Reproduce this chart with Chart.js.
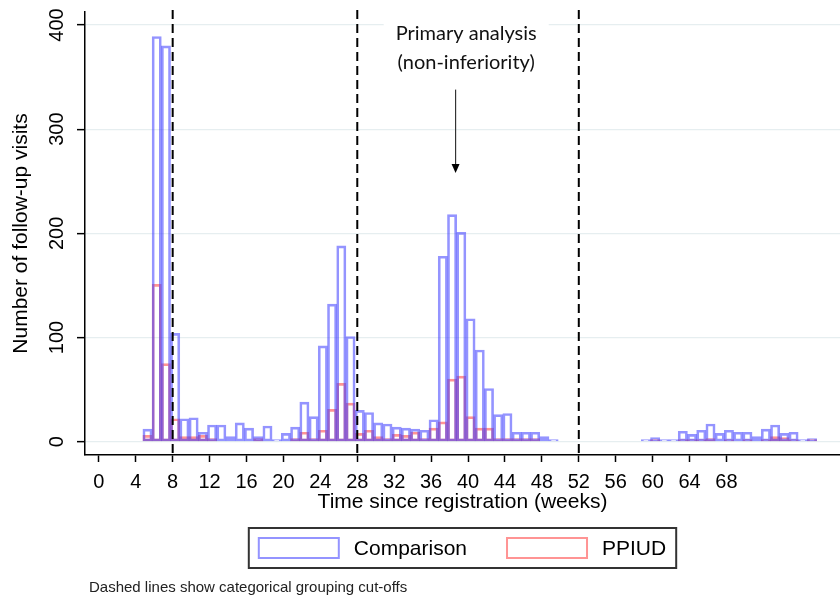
<!DOCTYPE html>
<html>
<head>
<meta charset="utf-8">
<title>Follow-up visits</title>
<script src="https://cdn.jsdelivr.net/npm/chart.js@4.4.0/dist/chart.umd.min.js"></script>
<style>
    html, body { margin: 0; padding: 0; background: #fff; }
    #myChart { display: block; }
</style>
</head>
<body>
<canvas id="myChart" width="840" height="600"></canvas>
<script>
// weeks since registration, one bar per week
const weeks = [5, 6, 7, 8, 9, 10, 11, 12, 13, 14, 15, 16, 17, 18, 19, 20, 21, 22, 23, 24, 25, 26, 27,
    28, 29, 30, 31, 32, 33, 34, 35, 36, 37, 38, 39, 40, 41, 42, 43, 44, 45, 46, 47, 48, 49,
    59, 60, 61, 62, 63, 64, 65, 66, 67, 68, 69, 70, 71, 72, 73, 74, 75, 76, 77];

const comparison = [12, 389, 380, 104, 22, 23, 9, 16, 16, 5, 18, 13, 5, 15, 2, 8, 14, 38, 24, 92, 132, 188, 101,
    30, 28, 18, 17, 14, 13, 12, 11, 21, 178, 218, 201, 118, 88, 51, 26, 27, 9, 9, 9, 5, 2,
    1, 4, 1, 1, 10, 7, 11, 17, 8, 11, 9, 9, 5, 12, 16, 8, 9, 1, 3];

const ppiud = [6, 151, 75, 22, 5, 5, 6, 3, null, null, null, null, 3, null, null, null, 3, 9, 3, 11, 31, 56, 37,
    8, 11, 5, 3, 7, 6, 9, 3, 13, 19, 60, 63, 24, 13, 13, 3, 3, 3, 3, 3, null, null,
    null, 2, null, null, 2, 2, 2, 3, null, 2, null, 2, null, 2, 5, 4, 2, null, 2];

const xTicks = [0, 4, 8, 12, 16, 20, 24, 28, 32, 36, 40, 44, 48, 52, 56, 60, 64, 68];
const yTicks = [0, 100, 200, 300, 400];
const cutoffs = [8, 28, 52];

// bins start a little before the whole week
const binOffset = 0.27;

const note = {
    lines: ['Primary analysis', '(non-inferiority)'],
    x: 39.8, y: [392, 364],
    arrowX: 38.65, arrowFrom: 338, arrowTo: 258
};
const footnote = 'Dashed lines show categorical grouping cut-offs';

const FONT = "'Liberation Sans', Arial, sans-serif";
Chart.defaults.font.family = FONT;
Chart.defaults.color = '#000';

const toPoints = (values) => weeks.map((w, i) => ({ x: w + binOffset, y: values[i] }));

const overlay = {
    id: 'overlay',
    afterDatasetsDraw(chart) {
        const { ctx, chartArea, scales: { x, y } } = chart;
        ctx.save();

        // cut-off lines
        ctx.strokeStyle = '#000';
        ctx.lineWidth = 2;
        ctx.setLineDash([9, 5]);
        cutoffs.forEach(c => {
            const px = x.getPixelForValue(c);
            ctx.beginPath();
            ctx.moveTo(px, chartArea.top - 2);
            ctx.lineTo(px, chartArea.bottom);
            ctx.stroke();
        });
        ctx.setLineDash([]);

        // annotation
        ctx.font = "20px Lato, 'Open Sans', sans-serif";
        const cx = x.getPixelForValue(note.x);
        const w = Math.max(...note.lines.map(t => ctx.measureText(t).width));
        const y1 = y.getPixelForValue(note.y[0]);
        const y2 = y.getPixelForValue(note.y[1]);
        ctx.fillStyle = '#fff';
        ctx.fillRect(cx - w / 2 - 12, y1 - 15, w + 24, y2 - y1 + 30);
        ctx.fillStyle = '#111';
        ctx.textAlign = 'center';
        ctx.textBaseline = 'middle';
        note.lines.forEach((t, i) => ctx.fillText(t, cx, y.getPixelForValue(note.y[i])));

        const ax = x.getPixelForValue(note.arrowX);
        const aTop = y.getPixelForValue(note.arrowFrom);
        const aEnd = y.getPixelForValue(note.arrowTo);
        ctx.strokeStyle = '#333';
        ctx.lineWidth = 1.2;
        ctx.beginPath();
        ctx.moveTo(ax, aTop);
        ctx.lineTo(ax, aEnd - 8);
        ctx.stroke();
        ctx.fillStyle = '#000';
        ctx.beginPath();
        ctx.moveTo(ax - 4, aEnd - 9);
        ctx.lineTo(ax + 4, aEnd - 9);
        ctx.lineTo(ax, aEnd);
        ctx.closePath();
        ctx.fill();
        ctx.restore();
    },
    afterDraw(chart) {
        const { ctx, chartArea, scales: { y } } = chart;
        ctx.save();

        // rotated y tick labels
        ctx.font = `20px ${FONT}`;
        ctx.fillStyle = '#000';
        ctx.textAlign = 'center';
        ctx.textBaseline = 'middle';
        y.ticks.forEach(t => {
            ctx.save();
            ctx.translate(57, y.getPixelForValue(t.value));
            ctx.rotate(-Math.PI / 2);
            ctx.fillText(String(t.value), 0, 0);
            ctx.restore();
        });

        // legend in a box
        ctx.font = `21px ${FONT}`;
        const sets = chart.data.datasets;
        const sw = 80, gap = 15, itemGap = 40, pad = 10;
        const widths = sets.map(d => ctx.measureText(d.label).width);
        const total = pad * 2 + sets.length * (sw + gap) + widths.reduce((a, b) => a + b, 0) + itemGap * (sets.length - 1);
        let lx = (chartArea.left + chartArea.right) / 2 - total / 2;
        const boxTop = 528, boxH = 40;
        ctx.strokeStyle = '#333';
        ctx.lineWidth = 2;
        ctx.strokeRect(lx, boxTop, total, boxH);
        lx += pad;
        ctx.textAlign = 'left';
        sets.forEach((d, i) => {
            ctx.strokeStyle = d.borderColor;
            ctx.lineWidth = 2;
            ctx.strokeRect(lx, boxTop + 10, sw, boxH - 20);
            ctx.fillStyle = '#000';
            ctx.fillText(d.label, lx + sw + gap, boxTop + boxH / 2 + 1);
            lx += sw + gap + widths[i] + itemGap;
        });

        // footnote
        ctx.font = `15px ${FONT}`;
        ctx.fillStyle = '#222';
        ctx.fillText(footnote, chartArea.left + 4, 588);
        ctx.restore();
    }
};

const barStyle = {
    backgroundColor: 'rgba(255,255,255,0)',
    borderWidth: 2,
    borderSkipped: false,
    minBarLength: 2,
    grouped: false,
    barPercentage: 1,
    categoryPercentage: 1
};

new Chart(document.getElementById('myChart').getContext('2d'), {
    type: 'bar',
    data: {
        datasets: [
            { label: 'Comparison', data: toPoints(comparison), borderColor: 'rgba(60,60,255,0.55)', ...barStyle },
            { label: 'PPIUD', data: toPoints(ppiud), borderColor: 'rgba(255,60,60,0.55)', ...barStyle }
        ]
    },
    options: {
        responsive: false,
        animation: false,
        layout: { padding: { top: 12, right: 0, bottom: 85, left: 0 } },
        plugins: { legend: { display: false }, tooltip: { enabled: false } },
        scales: {
            x: {
                type: 'linear',
                offset: false,
                min: -1.5,
                max: 80.3,
                afterBuildTicks: (s) => { s.ticks = xTicks.map(v => ({ value: v })); },
                afterFit: (s) => { s.height = 60; },
                grid: { offset: false, drawOnChartArea: false, tickLength: 7, tickColor: '#000', tickWidth: 1.5 },
                border: { color: '#000', width: 1.5 },
                ticks: { font: { size: 20 }, color: '#000', padding: 8, maxRotation: 0, autoSkip: false },
                title: { display: true, text: 'Time since registration (weeks)', font: { size: 21 }, color: '#000', padding: { top: 0, bottom: 0 } }
            },
            y: {
                min: -12.8,
                max: 412.5,
                afterBuildTicks: (s) => { s.ticks = yTicks.map(v => ({ value: v })); },
                afterFit: (s) => { s.width = 85; },
                grid: { color: '#e6eef0', lineWidth: 1.3, tickLength: 8, tickColor: '#000', tickWidth: 1.5 },
                border: { color: '#000', width: 1.5 },
                ticks: { display: false },
                title: { display: true, text: 'Number of follow-up visits', font: { size: 21 }, color: '#000', padding: { top: 9 } }
            }
        }
    },
    plugins: [overlay]
});
</script>
</body>
</html>
